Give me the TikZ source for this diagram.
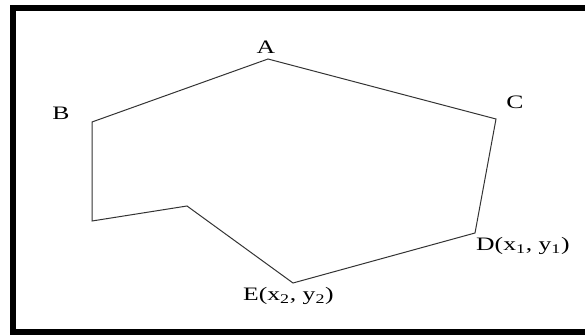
\documentclass[tikz,border=0pt]{standalone}
\usepackage{fontspec}
\setmainfont{Liberation Serif}
\usepackage{graphicx}
\begin{document}
\begin{tikzpicture}[x=1pt,y=1pt,
  lbl/.style={inner sep=0pt,font=\fontsize{19}{22}\selectfont},
  edge/.style={draw=black!80,line width=1pt,line join=miter}]
\useasboundingbox (0,0) rectangle (585,334);
\draw[line width=6pt] (590,326) -- (13,326) -- (13,2) -- (590,2);
\coordinate (A) at (268,275);
\coordinate (B) at (92,212);
\coordinate (F) at (92,113);
\coordinate (G) at (187,128);
\coordinate (E) at (293,51);
\coordinate (D) at (475,101);
\coordinate (C) at (496,215);
\draw[edge] (A) -- (B) -- (F) -- (G) -- (E) -- (D) -- (C) -- cycle;
\node[lbl] (la) at (266,287) {\scalebox{1.35}[1]{A}};
\node[lbl] (lb) at (61,221) {\scalebox{1.35}[1]{B}};
\node[lbl] (lc) at (515,232) {\scalebox{1.35}[1]{C}};
\node[lbl,anchor=west] (ld) at (476,88) {\scalebox{1.35}[1]{D(x\textsubscript{1}, y\textsubscript{1})}};
\node[lbl,anchor=west] (le) at (243,38) {\scalebox{1.35}[1]{E(x\textsubscript{2}, y\textsubscript{2})}};
\end{tikzpicture}
\end{document}
